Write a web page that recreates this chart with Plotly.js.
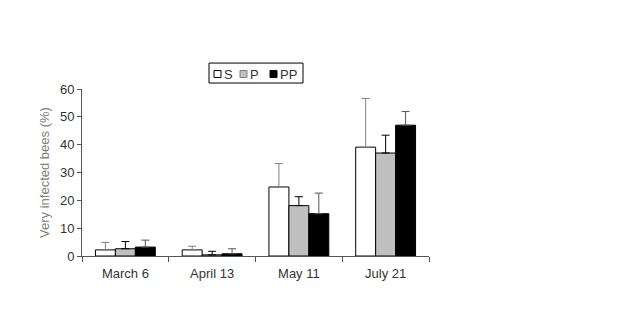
<!DOCTYPE html>
<html>
<head>
<meta charset="utf-8">
<script src="https://cdn.plot.ly/plotly-3.0.1.min.js"></script>
<style>html,body{margin:0;padding:0;background:#fff;}#chart{width:640px;height:335px;}</style>
</head>
<body>
<div id="chart"></div>
<script>
const categories = ["March 6", "April 13", "May 11", "July 21"];
const seriesNames = ["S", "P", "PP"];
const valuesS = [2.2, 2.2, 24.8, 39.1];
const valuesP = [2.6, 0.4, 18.1, 37.0];
const valuesPP = [3.2, 0.8, 15.2, 47.0];
const errS = [2.7, 1.3, 8.4, 17.5];
const errP = [2.6, 1.3, 3.2, 6.4];
const errPP = [2.5, 1.8, 7.4, 4.9];
const yTicks = [0, 10, 20, 30, 40, 50, 60];

const fills = ["#ffffff", "#c0c0c0", "#000000"];
const symLines = ["#000000", "#808080", "#000000"];
const errColors = ["#808080", "#000000", "#555555"];
const vals = [valuesS, valuesP, valuesPP];
const errs = [errS, errP, errPP];

const M = {l: 82, r: 211, t: 89, b: 78.5};
const W = 640, H = 335;
const pw = W - M.l - M.r, ph = H - M.t - M.b;
const px = x => (x - M.l) / pw;
const py = y => (H - M.b - y) / ph;

const traces = seriesNames.map((name, i) => ({
  type: "bar",
  name: name,
  x: categories,
  y: vals[i],
  marker: {color: fills[i], line: {color: "#000", width: 1}},
  error_y: {
    type: "data", symmetric: false,
    array: errs[i], arrayminus: errs[i].map(() => 0),
    color: errColors[i], thickness: 1, width: 4
  }
}));

// legend box drawn as shapes + annotations
const legendSymX = [214, 240, 270];
const shapes = [{
  type: "rect", xref: "paper", yref: "paper",
  x0: px(209), x1: px(303), y0: py(83), y1: py(63),
  line: {color: "#000", width: 1}, fillcolor: "#fff"
}];
const annotations = [];
seriesNames.forEach((name, i) => {
  shapes.push({
    type: "rect", xref: "paper", yref: "paper",
    x0: px(legendSymX[i]), x1: px(legendSymX[i] + 7), y0: py(77.5), y1: py(70.5),
    line: {color: symLines[i], width: 1}, fillcolor: fills[i]
  });
  annotations.push({
    xref: "paper", yref: "paper", x: px(legendSymX[i] + 8), y: py(74),
    xanchor: "left", yanchor: "middle", showarrow: false, text: name,
    font: {size: 13, color: "#333"}
  });
});

const layout = {
  width: W, height: H,
  margin: {l: M.l, r: M.r, t: M.t, b: M.b, pad: 0},
  paper_bgcolor: "#fff", plot_bgcolor: "#fff",
  font: {family: "Arial, Liberation Sans, sans-serif", size: 13, color: "#333"},
  barmode: "group", bargap: 0.31, bargroupgap: 0,
  showlegend: false,
  shapes: shapes,
  annotations: annotations,
  xaxis: {
    type: "category", showline: true, linecolor: "#555", linewidth: 1,
    ticks: "outside", tickson: "boundaries", ticklen: 5, tickcolor: "#555",
    showgrid: false, zeroline: false, tickfont: {size: 13, color: "#333"},
    ticklabelstandoff: 5
  },
  yaxis: {
    range: [0, 60], tickvals: yTicks, showline: true, linecolor: "#555", linewidth: 1,
    ticks: "outside", ticklen: 4, tickcolor: "#555", showgrid: false, zeroline: false,
    tickfont: {size: 13, color: "#333"},
    title: {text: "Very infected bees (%)", font: {size: 13, color: "#808080"}, standoff: 7}
  }
};

Plotly.newPlot("chart", traces, layout, {displayModeBar: false, staticPlot: true});
</script>
</body>
</html>
